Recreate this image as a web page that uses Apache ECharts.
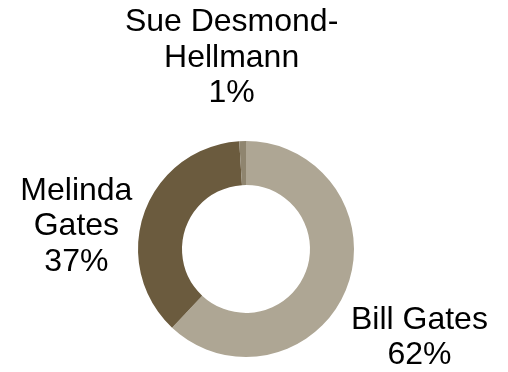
<!DOCTYPE html>
<html>
<head>
<meta charset="utf-8">
<script src="https://cdn.jsdelivr.net/npm/echarts@6/dist/echarts.min.js"></script>
<style>html,body{margin:0;padding:0;background:#fff;}#c{width:508px;height:372px;}</style>
</head>
<body>
<div id="c"></div>
<script>
const categories = ['Bill Gates', 'Melinda Gates', 'Sue Desmond-Hellmann'];
const labelNames = ['Bill Gates', 'Melinda\nGates', 'Sue Desmond-\nHellmann'];
const values = [62, 37, 1];
const colors = ['#aea694', '#6b5b3e', '#8f856f'];
// label offsets from the library's default outside anchor
const labelShift = [[68, 49], [-63, 14], [-6, -83]];

const chart = echarts.init(document.getElementById('c'));
chart.setOption({
  animation: false,
  series: [{
    type: 'pie',
    center: [246, 249],
    radius: [64, 108],
    startAngle: 90,
    clockwise: true,
    avoidLabelOverlap: false,
    data: categories.map((n, i) => ({ name: n, value: values[i], itemStyle: { color: colors[i] } })),
    label: {
      show: true,
      position: 'outside',
      fontFamily: 'Liberation Sans, Arial, sans-serif',
      fontSize: 32,
      lineHeight: 35.5,
      color: '#000',
      formatter: p => labelNames[p.dataIndex] + '\n' + Math.round(p.percent) + '%'
    },
    labelLine: { show: false, length: 0, length2: 0 },
    labelLayout: p => ({
      align: 'center',
      verticalAlign: 'middle',
      dx: labelShift[p.dataIndex][0],
      dy: labelShift[p.dataIndex][1]
    }),
    emphasis: { disabled: true }
  }]
});
</script>
</body>
</html>
